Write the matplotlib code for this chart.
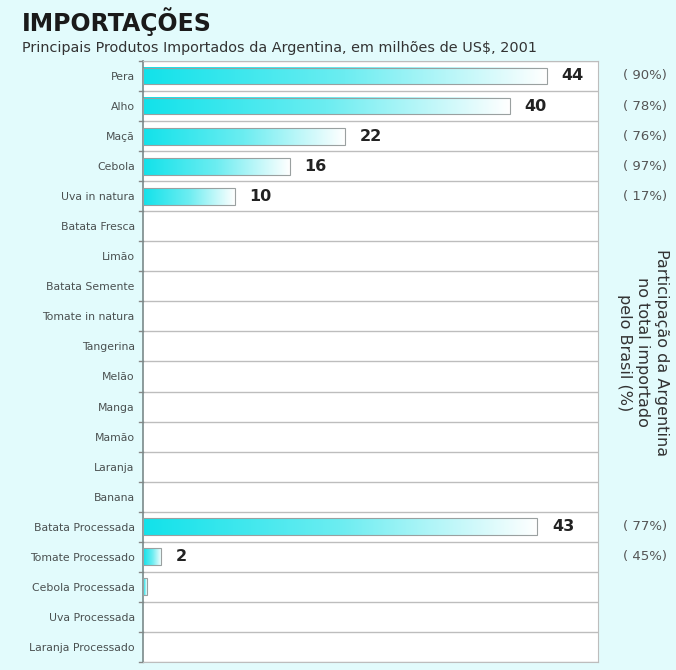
import numpy as np
import matplotlib.pyplot as plt
from matplotlib.colors import LinearSegmentedColormap

plt.rcParams['font.family'] = ['DejaVu Sans']

# Dados (milhões de US$, 2001)
produtos = ["Pera", "Alho", "Maçã", "Cebola", "Uva in natura", "Batata Fresca",
            "Limão", "Batata Semente", "Tomate in natura", "Tangerina", "Melão",
            "Manga", "Mamão", "Laranja", "Banana", "Batata Processada",
            "Tomate Processado", "Cebola Processada", "Uva Processada",
            "Laranja Processado"]
valores = [44, 40, 22, 16, 10, 0, 0, 0, 0, 0, 0, 0, 0, 0, 0, 43, 2, 0.4, 0, 0]
rotulos = ["44", "40", "22", "16", "10", "", "", "", "", "", "", "", "", "", "",
           "43", "2", "", "", ""]
participacao = ["( 90%)", "( 78%)", "( 76%)", "( 97%)", "( 17%)", "", "", "", "",
                "", "", "", "", "", "", "( 77%)", "( 45%)", "", "", ""]

bg = "#e2fbfc"
fig = plt.figure(figsize=(6.76, 6.70), dpi=100, facecolor=bg)
ax = fig.add_axes([0.2115, 0.012, 0.673, 0.897])
ax.set_facecolor("white")

n = len(produtos)
ys = np.arange(n)
h = 0.56
cmap = LinearSegmentedColormap.from_list("ciano", ["#12e2ea", "#6cedf1", "#ffffff"])
grad = np.linspace(0, 1, 256).reshape(1, -1)

for y, v, lab, pct in zip(ys, valores, rotulos, participacao):
    if v > 0:
        ax.imshow(grad, cmap=cmap, aspect="auto", extent=[0, v, y + h / 2, y - h / 2],
                  zorder=2, interpolation="bilinear")
        ax.barh(y, v, height=h, facecolor="none", edgecolor="#9aa0a0", linewidth=0.8,
                zorder=3)
    if lab:
        ax.text(v + 1.6, y, lab, ha="left", va="center", fontsize=11.5,
                fontweight="bold", color="#222222", zorder=4)
    if pct:
        ax.text(1.055, y, pct, transform=ax.get_yaxis_transform(), ha="left",
                va="center", fontsize=9.5, color="#555555")

# linhas de separação entre as linhas
for b in np.arange(-0.5, n + 0.5, 1):
    ax.axhline(b, color="#bdbdbd", linewidth=1.0, zorder=1)
    ax.plot([-0.4, 0], [b, b], color="#888888", linewidth=1.0, clip_on=False)

ax.set_xlim(0, 49.6)
ax.set_ylim(n - 0.5, -0.5)
ax.set_yticks(ys)
ax.set_yticklabels(produtos, fontsize=7.8, color="#4a5050")
ax.tick_params(axis="y", length=0, pad=6)
ax.set_xticks([])
for side in ["top", "right", "bottom"]:
    ax.spines[side].set_color("#bdbdbd")
ax.spines["left"].set_color("#7a8a8a")
ax.spines["left"].set_linewidth(1.2)

fig.text(0.032, 0.968, "IMPORTAÇÕES", fontsize=17, fontweight="bold",
         color="#1a1a1a", ha="left", va="center")
fig.text(0.032, 0.929, "Principais Produtos Importados da Argentina, em milhões de US$, 2001",
         fontsize=10.4, color="#333333", ha="left", va="center")
fig.text(0.951, 0.474, "Participação da Argentina\nno total importado\npelo Brasil (%)",
         rotation=-90, fontsize=11.5, color="#333333", ha="center", va="center",
         multialignment="center", linespacing=1.3)

fig.savefig("out.png", dpi=100, facecolor=bg)
